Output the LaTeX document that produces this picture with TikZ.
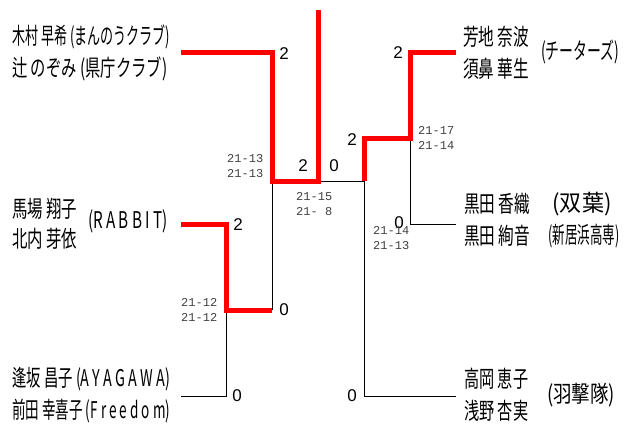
\documentclass[tikz,border=0pt]{standalone}
\usepackage{fontspec}
\setmainfont{Liberation Sans}
\newfontfamily\cjk{Noto Sans CJK JP}
\newfontfamily\scorefont{Liberation Mono}
\usepackage{graphicx}
\newcommand\fitw[2]{\resizebox{#1}{\height}{#2}}
\tikzset{
  win/.style={draw=red, line width=5pt, line join=miter},
  lose/.style={draw=black, line width=1pt},
  player/.style={inner sep=0pt, anchor=west, font=\cjk\fontsize{23}{23}\selectfont},
  club/.style={inner sep=0pt, anchor=center, font=\cjk\fontsize{23}{23}\selectfont},
  pts/.style={inner sep=0pt, font=\fontsize{17}{17}\selectfont},
  game/.style={inner sep=0pt, anchor=west, font=\scorefont\fontsize{12}{15}\selectfont, text=black!75, align=left},
}
\begin{document}
\begin{tikzpicture}[x=1pt,y=-1pt]
\useasboundingbox (0,0) rectangle (632,428);
% bracket coordinates
\coordinate (A) at (181,53);   \coordinate (A1) at (272,53);
\coordinate (B) at (181,224);  \coordinate (B1) at (226,224);
\coordinate (C) at (181,396);  \coordinate (C1) at (226,396);
\coordinate (BC) at (226,310); \coordinate (BC1) at (272,310);
\coordinate (L) at (272,181);  \coordinate (LM) at (318,181);
\coordinate (T) at (318,10);   \coordinate (R) at (364,181);
\coordinate (D) at (456,53);   \coordinate (D1) at (410,53);
\coordinate (E) at (456,224);  \coordinate (E1) at (410,224);
\coordinate (F) at (456,396);  \coordinate (F1) at (364,396);
\coordinate (DE) at (410,138); \coordinate (DE1) at (364,138);
% losing lines
\draw[lose] (C) -- (C1) -- (BC);
\draw[lose] (BC1) -- (L);
\draw[lose] (LM) -- (R);
\draw[lose] (E) -- (E1) -- (DE);
\draw[lose] (F) -- (F1) -- (R);
% winning lines
\draw[win] (A) -- (A1) -- (L) -- (LM) -- (T);
\draw[win] (B) -- (B1) -- (BC) -- (BC1);
\draw[win] (D) -- (D1) -- (DE) -- (DE1) -- (R);
% players left
\node[player] (p1) at (12,37) {\fitw{158pt}{木村 早希 (まんのうクラブ)}};
\node[player] (p2) at (12,69) {\fitw{155pt}{辻 のぞみ (県庁クラブ)}};
\node[player] (p3) at (12,209) {\fitw{65pt}{馬場 翔子}};
\node[player] (p4) at (12,239) {\fitw{65pt}{北内 芽依}};
\node[club] (c3) at (128,221) {\fitw{80pt}{(R A B B I T)}};
\node[player] (p5) at (12,379) {\fitw{158pt}{逢坂 昌子 (A Y A G A W A)}};
\node[player] (p6) at (12,411) {\fitw{158pt}{前田 幸喜子 (F r e e d o m)}};
% players right
\node[player] (q1) at (463,37) {\fitw{66pt}{芳地 奈波}};
\node[player] (q2) at (463,69) {\fitw{66pt}{須鼻 華生}};
\node[club] (d1) at (580,52) {\fitw{78pt}{(チーターズ)}};
\node[player] (q3) at (464,204) {\fitw{66pt}{黒田 香織}};
\node[club] (d2) at (582,204) {\fitw{59pt}{(双葉)}};
\node[player] (q4) at (464,236) {\fitw{66pt}{黒田 絢音}};
\node[club] (d3) at (584,236) {\fitw{71pt}{(新居浜高専)}};
\node[player] (q5) at (464,379) {\fitw{64pt}{高岡 恵子}};
\node[player] (q6) at (464,411) {\fitw{64pt}{浅野 杏実}};
\node[club] (d4) at (581,395) {\fitw{68pt}{(羽撃隊)}};
% set counts
\node[pts] (s1) at (284,54) {2};
\node[pts] (s2) at (303,166) {2};
\node[pts] (s3) at (334,166) {0};
\node[pts] (s4) at (398,53) {2};
\node[pts] (s5) at (352,140) {2};
\node[pts] (s6) at (399,223) {0};
\node[pts] (s7) at (238,225) {2};
\node[pts] (s8) at (284,310) {0};
\node[pts] (s9) at (237,396) {0};
\node[pts] (s10) at (352,396) {0};
% game scores
\node[game] (g1) at (227,166) {21-13\\21-13};
\node[game] (g2) at (296,204) {21-15\\21- 8};
\node[game] (g3) at (418,138) {21-17\\21-14};
\node[game] (g4) at (373,238) {21-14\\21-13};
\node[game] (g5) at (181,310) {21-12\\21-12};
\end{tikzpicture}
\end{document}
